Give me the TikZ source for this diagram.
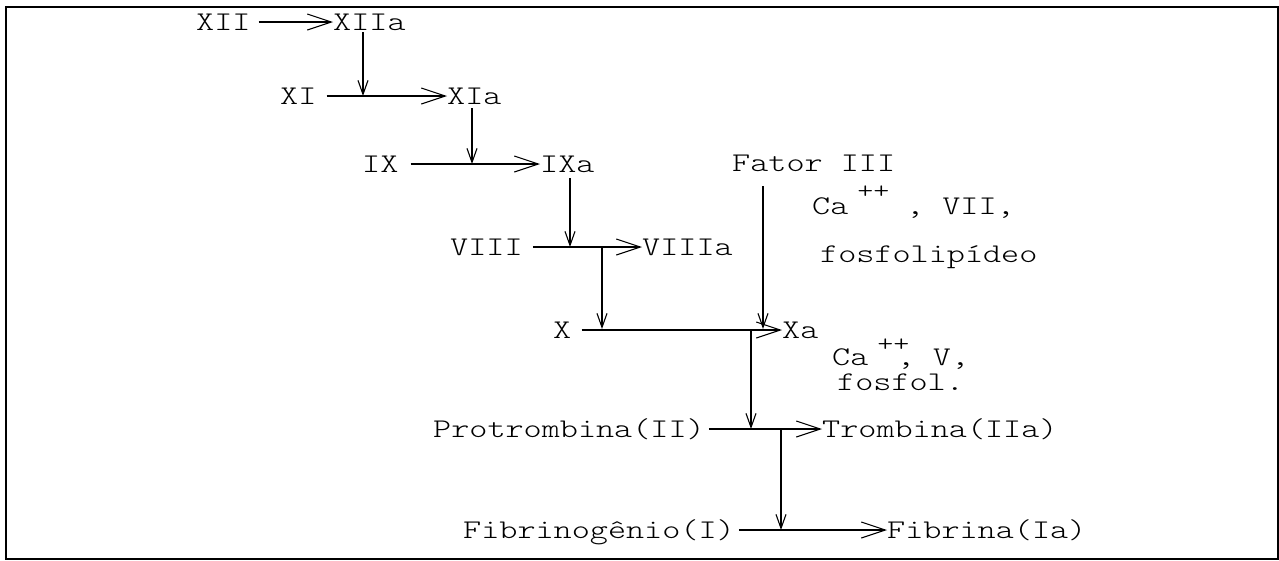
\documentclass[tikz,border=0pt]{standalone}
\usepackage{fontspec}
\usepackage{graphicx}
\usetikzlibrary{arrows.meta}
\newcommand{\tw}[1]{\scalebox{1.277}[1]{\ttfamily\fontseries{l}\fontsize{27}{27}\selectfont #1}}
\tikzset{
  lbl/.style={inner sep=0pt, text height=16pt, text depth=0pt, anchor=west},
  harrow/.style={line width=1.1pt, -{Straight Barb[length=24pt,width=16pt,line width=1.1pt]}},
  varrow/.style={line width=1.1pt, -{Straight Barb[length=14pt,width=10pt,line width=1.1pt]}},
  frame/.style={line width=2pt},
}
\begin{document}
\begin{tikzpicture}[x=1pt,y=-1pt]
\useasboundingbox (0,0) rectangle (1279,560);
\draw[frame] (6,7) rectangle (1278,559);
% row XII
\node[lbl] (xii) at (196,22) {\tw{XII}};
\node[lbl] (xiia) at (333,22) {\tw{XIIa}};
\draw[harrow] (xii.east) ++(8,0) -- (xiia.west);
% row XI
\node[lbl] (xi) at (280,96) {\tw{XI}};
\node[lbl] (xia) at (447,96) {\tw{XIa}};
\coordinate (j1) at (363,96);
\draw[varrow] (xiia.south -| j1) ++(0,2) -- (j1);
\draw[harrow] (xi.east) ++(10,0) -- (xia.west);
% row IX
\node[lbl] (ix) at (362,164) {\tw{IX}};
\node[lbl] (ixa) at (540,164) {\tw{IXa}};
\coordinate (j2) at (472,164);
\draw[varrow] (xia.south -| j2) ++(0,4) -- (j2);
\draw[harrow] (ix.east) ++(12,0) -- (ixa.west);
% row VIII
\node[lbl] (viii) at (450,247) {\tw{VIII}};
\node[lbl] (viiia) at (642,247) {\tw{VIIIa}};
\coordinate (j3) at (570,247);
\draw[varrow] (ixa.south -| j3) ++(0,6) -- (j3);
\draw[harrow] (viii.east) ++(10,0) -- (viiia.west);
% row X
\node[lbl] (x) at (553,330) {\tw{X}};
\node[lbl] (xa) at (782,330) {\tw{Xa}};
\coordinate (j4) at (602,247);
\coordinate (j5) at (602,329);
\draw[varrow] (j4) -- (j5);
\draw[harrow] (x.east) ++(10,0) -- (xa.west);
% Fator III
\node[lbl] (fator) at (732,163) {\tw{Fator III}};
\coordinate (j6) at (763,329);
\draw[varrow] (fator.south -| j6) ++(0,15) -- (j6);
\node[lbl] (cof1) at (812,206) {\tw{Ca\hspace{7pt}\raisebox{16pt}{\fontsize{24}{24}\selectfont ++}\hspace{13pt}, VII,}};
\node[lbl] (fosfo) at (820,254) {\tw{fosfolip\'ideo}};
\node[lbl] (cof2) at (832,357) {\tw{Ca\hspace{7pt}\raisebox{14pt}{\fontsize{24}{24}\selectfont ++}\hspace{-10pt}, V,}};
\node[lbl] (fosfol) at (837,382) {\tw{fosfol.}};
% Protrombina
\node[lbl] (prot) at (433,429) {\tw{Protrombina(II)}};
\node[lbl] (trom) at (822,429) {\tw{Trombina(IIa)}};
\coordinate (j7) at (751,330);
\coordinate (j8) at (751,429);
\draw[varrow] (j7) -- (j8);
\draw[harrow] (prot.east) ++(4,0) -- (trom.west);
% Fibrinogenio
\node[lbl] (fib) at (463,530) {\tw{Fibrinog\^enio(I)}};
\node[lbl] (fibr) at (887,530) {\tw{Fibrina(Ia)}};
\coordinate (j9) at (781,429);
\coordinate (j10) at (781,530);
\draw[varrow] (j9) -- (j10);
\draw[harrow] (fib.east) ++(4,0) -- (fibr.west);
\end{tikzpicture}
\end{document}
